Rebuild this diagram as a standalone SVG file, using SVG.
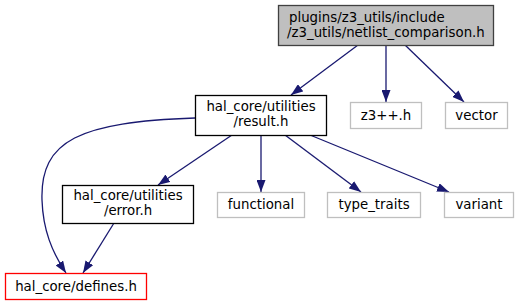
<svg xmlns="http://www.w3.org/2000/svg" width="517" height="305" viewBox="0 0 517 305">
<defs>
<style>
text{font-family:"DejaVu Sans",sans-serif;font-size:13.33px;fill:#000}
.c{text-anchor:middle}
.s{text-anchor:start}
.e{fill:none;stroke:#191970;stroke-width:1.3}
.b{fill:#fff;stroke:#000;stroke-width:1.3}
.g{fill:#fff;stroke:#bfbfbf;stroke-width:1.3}
</style>
<marker id="a" viewBox="0 0 12 9" markerWidth="12" markerHeight="9" refX="12" refY="4.5" orient="auto" markerUnits="userSpaceOnUse">
<path d="M0,0L12,4.5L0,9z" fill="#191970"/>
</marker>
</defs>
<rect width="517" height="305" fill="#fff"/>
<g id="edges">
<path class="e" marker-end="url(#a)" d="M358,45L291,95"/>
<path class="e" marker-end="url(#a)" d="M386,45L386,102"/>
<path class="e" marker-end="url(#a)" d="M405,45L464,102"/>
<path class="e" marker-end="url(#a)" d="M232,135L158,185"/>
<path class="e" marker-end="url(#a)" d="M261,135L261,192"/>
<path class="e" marker-end="url(#a)" d="M285,135L361,192"/>
<path class="e" marker-end="url(#a)" d="M310,135L449,192"/>
<path class="e" marker-end="url(#a)" d="M195,118C80,122 40,140 42,200C43,230 52,252 66,273"/>
<path class="e" marker-end="url(#a)" d="M114,223L83,273"/>
</g>
<g id="netlist_comparison">
<rect x="278.5" y="5.5" width="215" height="40" fill="#bfbfbf" stroke="#404040" stroke-width="1.3"/>
<text class="s" x="289" y="22">plugins/z3_utils/include</text>
<text class="s" x="287" y="37">/z3_utils/netlist_comparison.h</text>
</g>
<g id="result">
<rect class="b" x="195.5" y="95.5" width="131" height="40"/>
<text class="c" x="261" y="111">hal_core/utilities</text>
<text class="c" x="261" y="126">/result.h</text>
</g>
<g id="z3pp">
<rect class="g" x="350.5" y="102.5" width="71" height="26"/>
<text class="c" x="386" y="120">z3++.h</text>
</g>
<g id="vector">
<rect class="g" x="445.5" y="102.5" width="62" height="26"/>
<text class="c" x="476.5" y="120">vector</text>
</g>
<g id="error">
<rect class="b" x="62.5" y="185.5" width="131" height="38"/>
<text class="c" x="128" y="200">hal_core/utilities</text>
<text class="c" x="128" y="215">/error.h</text>
</g>
<g id="functional">
<rect class="g" x="217.5" y="192.5" width="87" height="25"/>
<text class="c" x="261" y="209">functional</text>
</g>
<g id="type_traits">
<rect class="g" x="327.5" y="192.5" width="93" height="25"/>
<text class="c" x="374" y="209">type_traits</text>
</g>
<g id="variant">
<rect class="g" x="444.5" y="192.5" width="69" height="25"/>
<text class="c" x="479" y="209">variant</text>
</g>
<g id="defines">
<rect x="5.5" y="273.5" width="141" height="26" fill="#fff" stroke="#ff0000" stroke-width="1.3"/>
<text class="c" x="76" y="291">hal_core/defines.h</text>
</g>
</svg>
